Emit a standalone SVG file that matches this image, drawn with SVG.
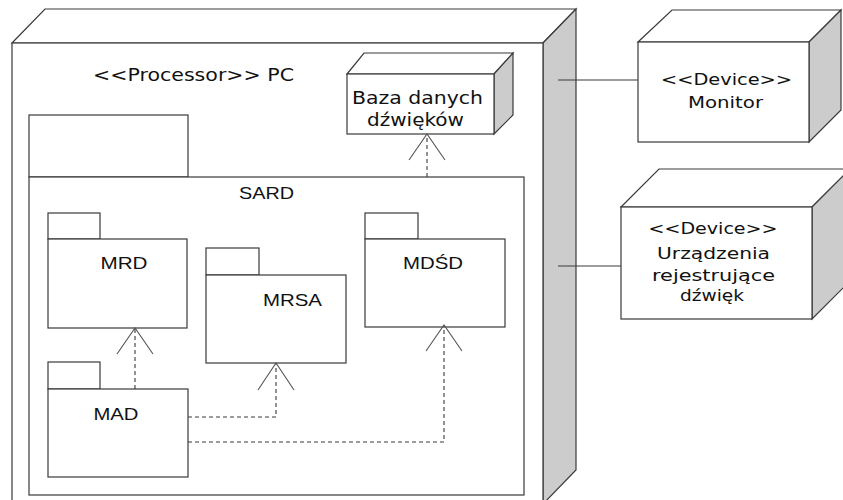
<svg xmlns="http://www.w3.org/2000/svg" width="843" height="500" viewBox="0 0 843 500">
  <style>
    .edge { fill: #ffffff; stroke: #3a3a3a; stroke-width: 1.2; }
    .side { fill: #cccccc; stroke: #3a3a3a; stroke-width: 1.2; }
    .pkg { fill: #ffffff; stroke: #3a3a3a; stroke-width: 1.2; }
    .dep { fill: none; stroke: #3a3a3a; stroke-width: 1.1; stroke-dasharray: 4 3; }
    .head { fill: none; stroke: #555555; stroke-width: 1.1; }
    .link { fill: none; stroke: #3a3a3a; stroke-width: 1.2; }
    .t1 { font-family: "DejaVu Sans", Verdana, sans-serif; fill: #111111; text-anchor: middle; }
    .t2 { font-family: "Liberation Sans", Arial, sans-serif; font-size: 17px; fill: #111111; text-anchor: middle; }
  </style>

  <!-- Processor node: PC -->
  <g id="pc">
    <polygon class="edge" points="12,43 45,9 576,9 543,43"/>
    <polygon class="side" points="543,43 576,9 576,470 543,504"/>
    <rect class="edge" x="12" y="43" width="531" height="461"/>
    <text class="t1" x="193.5" y="81" font-size="17" textLength="201" lengthAdjust="spacingAndGlyphs">&lt;&lt;Processor&gt;&gt; PC</text>
  </g>

  <!-- Package SARD -->
  <g id="sard">
    <rect class="pkg" x="29" y="115" width="159" height="62"/>
    <rect class="pkg" x="29" y="177" width="495" height="318"/>
    <text class="t2" x="266.5" y="199" textLength="55" lengthAdjust="spacingAndGlyphs">SARD</text>
  </g>

  <!-- Database node -->
  <g id="baza">
    <polygon class="edge" points="347,74 364,53 513,53 494,74"/>
    <polygon class="side" points="494,74 513,53 513,115 494,134"/>
    <rect class="edge" x="347" y="74" width="147" height="60"/>
    <text class="t1" x="417.5" y="104" font-size="18" textLength="131" lengthAdjust="spacingAndGlyphs">Baza danych</text>
    <text class="t1" x="415.5" y="126" font-size="18" textLength="97" lengthAdjust="spacingAndGlyphs">dźwięków</text>
  </g>

  <!-- Packages inside SARD -->
  <g id="mrd">
    <rect class="pkg" x="48" y="213" width="52" height="26"/>
    <rect class="pkg" x="48" y="239" width="139" height="89"/>
    <text class="t2" x="124" y="269" textLength="47" lengthAdjust="spacingAndGlyphs">MRD</text>
  </g>
  <g id="mrsa">
    <rect class="pkg" x="206" y="248" width="53" height="27"/>
    <rect class="pkg" x="206" y="275" width="140" height="88"/>
    <text class="t2" x="292.5" y="306" textLength="59" lengthAdjust="spacingAndGlyphs">MRSA</text>
  </g>
  <g id="mdsd">
    <rect class="pkg" x="365" y="213" width="53" height="26"/>
    <rect class="pkg" x="365" y="239" width="140" height="88"/>
    <text class="t2" x="433" y="269" textLength="60" lengthAdjust="spacingAndGlyphs">MDŚD</text>
  </g>
  <g id="mad">
    <rect class="pkg" x="48" y="362" width="52" height="27"/>
    <rect class="pkg" x="48" y="389" width="140" height="88"/>
    <text class="t2" x="116" y="420" textLength="45" lengthAdjust="spacingAndGlyphs">MAD</text>
  </g>

  <!-- Device node: Monitor -->
  <g id="monitor">
    <polygon class="edge" points="638,42 672,10 841,10 809,42"/>
    <polygon class="side" points="809,42 841,10 841,110 809,142"/>
    <rect class="edge" x="638" y="42" width="171" height="100"/>
    <text class="t1" x="726.5" y="85" font-size="16" textLength="131" lengthAdjust="spacingAndGlyphs">&lt;&lt;Device&gt;&gt;</text>
    <text class="t1" x="725.5" y="108" font-size="16" textLength="75" lengthAdjust="spacingAndGlyphs">Monitor</text>
  </g>

  <!-- Device node: recording devices -->
  <g id="urzadzenia">
    <polygon class="edge" points="621,207 659,169 850,169 812,207"/>
    <polygon class="side" points="812,207 850,169 850,281 812,319"/>
    <rect class="edge" x="621" y="207" width="191" height="112"/>
    <text class="t1" x="713" y="234" font-size="16" textLength="129" lengthAdjust="spacingAndGlyphs">&lt;&lt;Device&gt;&gt;</text>
    <text class="t1" x="713.5" y="259" font-size="16" textLength="113" lengthAdjust="spacingAndGlyphs">Urządzenia</text>
    <text class="t1" x="713.5" y="281" font-size="16" textLength="123" lengthAdjust="spacingAndGlyphs">rejestrujące</text>
    <text class="t1" x="712" y="301" font-size="16" textLength="64" lengthAdjust="spacingAndGlyphs">dźwięk</text>
  </g>

  <!-- Connectors -->
  <g id="connectors">
    <line class="link" x1="558" y1="80" x2="638" y2="80"/>
    <line class="link" x1="558" y1="266" x2="621" y2="266"/>

    <!-- SARD uses Baza -->
    <line class="dep" x1="427" y1="177" x2="427" y2="135"/>
    <polyline class="head" points="409,160 427,134 445,160"/>

    <!-- MAD uses MRD -->
    <line class="dep" x1="135" y1="389" x2="135" y2="329"/>
    <polyline class="head" points="117,354 135,328 153,354"/>

    <!-- MAD uses MRSA -->
    <polyline class="dep" points="188,417 276,417 276,364"/>
    <polyline class="head" points="258,390 276,363 294,390"/>

    <!-- MAD uses MDŚD -->
    <polyline class="dep" points="188,442 444,442 444,326"/>
    <polyline class="head" points="426,351 444,325 462,351"/>
  </g>
</svg>
